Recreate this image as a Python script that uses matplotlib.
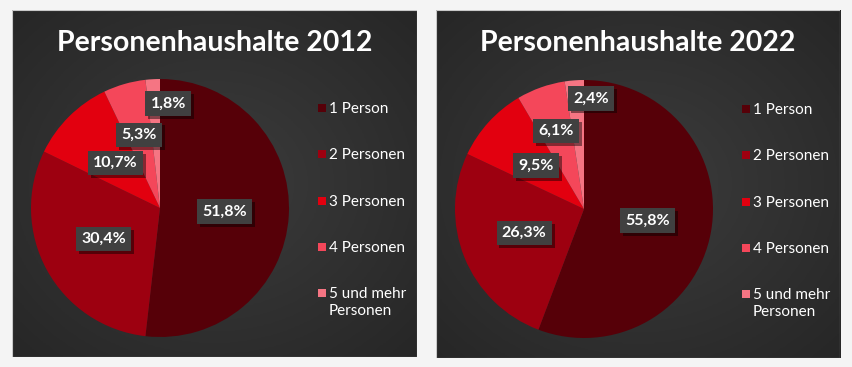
import numpy as np
import matplotlib
matplotlib.use("Agg")
import matplotlib.pyplot as plt
import matplotlib.patheffects as pe
from matplotlib.patches import Rectangle
from matplotlib.colors import LinearSegmentedColormap

categories = ["1 Person", "2 Personen", "3 Personen", "4 Personen", "5 und mehr\nPersonen"]
years = ["2012", "2022"]
values_2012 = [51.8, 30.4, 10.7, 5.3, 1.8]
values_2022 = [55.8, 26.3, 9.5, 6.1, 2.4]
labels_2012 = ["51,8%", "30,4%", "10,7%", "5,3%", "1,8%"]
labels_2022 = ["55,8%", "26,3%", "9,5%", "6,1%", "2,4%"]

colors = ["#560008", "#9d0010", "#e2000f", "#f4475a", "#f57583"]

# label placement (fraction of radius, extra x shift)
label_dist = {
    "2012": [0.5, 0.5, 0.49, 0.59, 0.81],
    "2022": [0.5, 0.5, 0.5, 0.64, 0.86],
}
label_dx = {
    "2012": [0, 0, 0, 0, 0.11],
    "2022": [0, 0, 0, 0, 0.12],
}

W, H = 852, 367
fig = plt.figure(figsize=(W / 100, H / 100), dpi=100)
fig.patch.set_facecolor("#f4f4f4")

panels = [
    (12, 10, 405, 347, 160, 208, values_2012, labels_2012, "2012"),
    (436, 10, 404, 348, 584, 209, values_2022, labels_2022, "2022"),
]

# radial gradient for the dark background
yy, xx = np.mgrid[-1:1:200j, -1:1:200j]
grad = np.sqrt(xx ** 2 + yy ** 2)
bg_cmap = LinearSegmentedColormap.from_list("g", ["#3c3c3c", "#262626"])

R = 129
for x0, y0, pw, ph, cx, cy, vals, labs, yr in panels:
    bg = fig.add_axes([x0 / W, 1 - (y0 + ph) / H, pw / W, ph / H])
    bg.imshow(grad, cmap=bg_cmap, extent=[0, 1, 0, 1], aspect="auto", vmin=0, vmax=1.45)
    bg.set_xlim(0, 1)
    bg.set_ylim(0, 1)
    bg.axis("off")
    bg.add_patch(Rectangle((0, 0), 1, 1, transform=bg.transAxes, fill=False,
                           ec="#c8c8c8", lw=0.8))

    fig.text((x0 + pw / 2) / W, 1 - 43 / H, "Personenhaushalte " + yr,
             ha="center", va="center", fontsize=20.5, fontweight="bold",
             family="Lato", color="white")

    m = 1.03
    ax = fig.add_axes([(cx - R * m) / W, 1 - (cy + R * m) / H, 2 * R * m / W, 2 * R * m / H])
    wedges, _ = ax.pie(vals, colors=colors, startangle=90, counterclock=False,
                       radius=1, wedgeprops=dict(lw=0))
    ax.set_xlim(-m, m)
    ax.set_ylim(-m, m)
    ax.axis("off")

    for i, w in enumerate(wedges):
        ang = np.deg2rad((w.theta1 + w.theta2) / 2)
        d = label_dist[yr][i]
        tx = d * np.cos(ang) + label_dx[yr][i]
        ty = d * np.sin(ang)
        t = ax.text(tx, ty, labs[i], ha="center", va="center", fontsize=11.5,
                    fontweight="bold", family="Lato", color="white",
                    bbox=dict(boxstyle="square,pad=0.33", fc="#404040", ec="none"))
        t.get_bbox_patch().set_path_effects(
            [pe.SimplePatchShadow(offset=(2, -2), shadow_rgbFace="#000000", alpha=0.45), pe.Normal()])

    # legend
    lx = cx + 162
    for i, cat in enumerate(categories):
        ly = cy - 100 + i * 46.3
        fig.patches.append(Rectangle(((lx - 4) / W, 1 - (ly + 4) / H), 8 / W, 8 / H,
                                     transform=fig.transFigure, fc=colors[i], ec="none"))
        fig.text((lx + 7) / W, 1 - (ly - 6) / H, cat, ha="left", va="top",
                 fontsize=11, family="Lato", color="white", linespacing=1.25)

fig.savefig("out.png", dpi=100, facecolor=fig.get_facecolor())
